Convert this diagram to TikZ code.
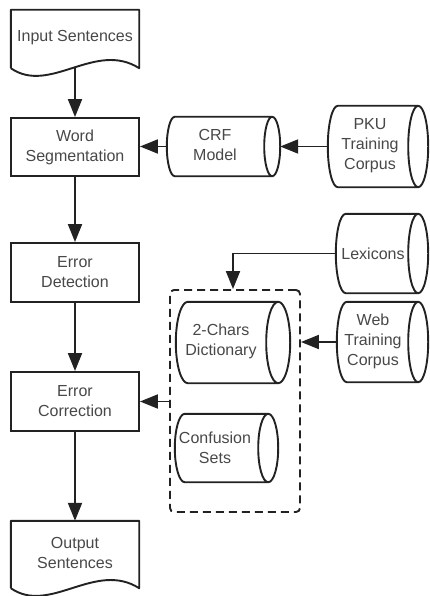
\documentclass[tikz,border=0pt]{standalone}
\usepackage{fontspec}
\setmainfont{Liberation Sans}
\usetikzlibrary{arrows.meta,calc}
\definecolor{ln}{HTML}{222222}
\definecolor{tx}{HTML}{484848}
\newcommand\drawcyl[2]{%
  \draw[shapeline] let \p1=(#1.north west), \p2=(#1.south east), \n1={(\y1-\y2)/2} in
    (\x2-#2pt,\y1) -- (\x1+#2pt,\y1) arc[start angle=90,end angle=270,x radius=#2pt,y radius=\n1] -- (\x2-#2pt,\y2)
    (\x2-#2pt,\y1) arc[start angle=90,end angle=-270,x radius=#2pt,y radius=\n1];
}
\begin{document}
\begin{tikzpicture}[x=1pt,y=1pt,
  shapeline/.style={draw=ln,line width=1.9pt,line join=round},
  proc/.style={draw=ln,line width=1.9pt,minimum width=128pt,inner sep=0pt,text=tx,align=center,font=\fontsize{16}{20}\selectfont},
  blank/.style={inner sep=0pt,draw=none},
  lbl/.style={text=tx,align=center,font=\fontsize{16}{20}\selectfont,inner sep=0pt},
  arr/.style={draw=ln,line width=1.9pt,-{Triangle[length=18pt,width=14pt]}},
  grp/.style={draw=ln,line width=1.9pt,dash pattern=on 8pt off 5pt,rounded corners=4pt,inner sep=0pt}
]
\useasboundingbox[fill=white] (0,0) rectangle (429,-596);

% documents
\node[blank,minimum width=128pt,minimum height=58pt] (inp) at (75,-39) {};
\draw[shapeline] (inp.south west) -- (inp.north west) -- (inp.north east) -- (inp.south east)
  .. controls +(-44,28) and +(39,-27) .. (inp.south west);
\node[lbl] (inpt) at (75,-38) {Input Sentences};

\node[blank,minimum width=128pt,minimum height=67pt] (out) at (75,-554.5) {};
\draw[shapeline] (out.south west) -- (out.north west) -- (out.north east) -- (out.south east)
  .. controls +(-44,28) and +(39,-27) .. (out.south west);
\node[lbl] (outt) at (75,-553) {Output\\Sentences};

% process boxes
\node[proc,minimum height=58pt] (ws) at (75,-147) {Word\\Segmentation};
\node[proc,minimum height=59pt] (ed) at (75,-272.5) {Error\\Detection};
\node[proc,minimum height=59pt] (ec) at (75,-401.5) {Error\\Correction};

% cylinders
\node[blank,minimum width=113pt,minimum height=59pt] (crf) at (223.5,-146.5) {};
\node[blank,minimum width=100pt,minimum height=81pt] (pku) at (378,-146.5) {};
\node[blank,minimum width=92pt,minimum height=79pt] (lex) at (382,-253.5) {};
\node[blank,minimum width=91pt,minimum height=80pt] (web) at (382.5,-342) {};
\node[blank,minimum width=114pt,minimum height=81pt] (dict) at (233,-342.5) {};
\node[blank,minimum width=103pt,minimum height=68pt] (conf) at (226.5,-448) {};
\drawcyl{crf}{8}
\drawcyl{pku}{10}
\drawcyl{lex}{10}
\drawcyl{web}{10}
\drawcyl{dict}{12}
\drawcyl{conf}{10}
\node[lbl] (crft) at (215,-145) {CRF\\Model};
\node[lbl] (pkut) at (370,-146) {PKU\\Training\\Corpus};
\node[lbl] (lext) at (373,-254) {Lexicons};
\node[lbl] (webt) at (373,-341) {Web\\Training\\Corpus};
\node[lbl] (dictt) at (221,-341) {2-Chars\\Dictionary};
\node[lbl] (conft) at (215,-448) {Confusion\\Sets};

% dashed group
\node[grp,minimum width=130pt,minimum height=222pt] (box) at (235,-401) {};

% connectors
\draw[arr] (inp.south) -- (ws.north);
\draw[arr] (ws.south) -- (ed.north);
\draw[arr] (ed.south) -- (ec.north);
\draw[arr] (ec.south) -- (out.north);
\draw[arr] (pku.west) -- (crf.east);
\draw[arr] (crf.west) -- (crf.west -| ws.east);
\draw[arr] (lex.west) -| ($(box.north)+(-2,0)$);
\draw[arr] (web.west) -- (web.west -| box.east);
\draw[arr] (box.west |- ec.east) -- (ec.east);
\end{tikzpicture}
\end{document}
